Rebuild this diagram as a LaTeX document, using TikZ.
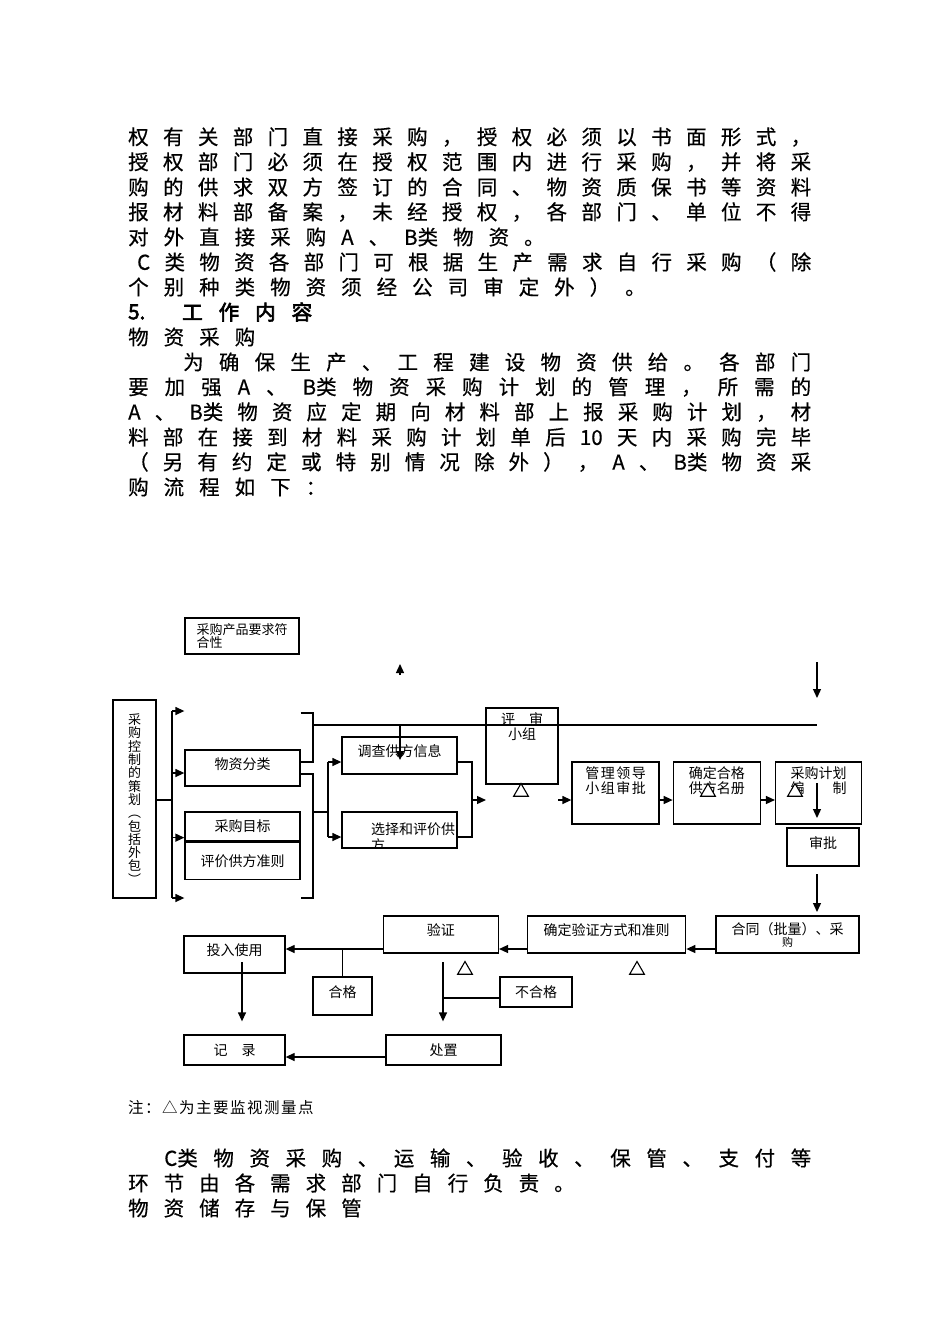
\documentclass[tikz,border=0pt]{standalone}
\usepackage{fontspec}
\setmainfont{Noto Sans CJK SC}
\newfontfamily\headfont[FakeBold=3]{Noto Sans CJK SC}
\newfontfamily\bodyface[FakeBold=0.5]{Noto Sans CJK SC}
\usetikzlibrary{positioning,arrows.meta,shapes.geometric}

\newdimen\bodygap
\bodygap=15pt
\newcommand\bodyfont{\fontsize{20.5}{25}\selectfont\bodyface}
\newcommand\boxfont{\fontsize{14}{15}\selectfont}

% spread the items of one text line: \jline justifies, \nline keeps a fixed gap
\ExplSyntaxOn
\cs_new_protected:Npn \rk_spread:nn #1#2
  {
    \bool_set_true:N \l_tmpa_bool
    \tl_map_inline:nn {#2}
      {
        \bool_if:NTF \l_tmpa_bool
          { \bool_set_false:N \l_tmpa_bool }
          { #1 }
        ##1
      }
  }
\NewDocumentCommand \jline { m m }
  { \hbox_to_wd:nn {#1} { \rk_spread:nn { \hfil } {#2} } }
\NewDocumentCommand \nline { O{\bodygap} m }
  { \hbox:n { \rk_spread:nn { \skip_horizontal:n {#1} } {#2} } }
\ExplSyntaxOff

\begin{document}
\begin{tikzpicture}[x=1pt,y=-1pt,
    >={Triangle[length=9pt,width=8pt]},
    every node/.style={inner sep=0pt},
    txt/.style={anchor=west, font=\bodyfont},
    box/.style={draw, line width=1.3pt, align=center, font=\boxfont},
    txtin/.style={align=center, font=\boxfont},
    raised/.style={text height=11pt, text depth=9pt},
    wire/.style={line width=1.3pt},
    tri/.style={regular polygon, regular polygon sides=3, draw, fill=white,
        line width=1.1pt, minimum size=17pt},
]
\fill[white] (0,0) rectangle (950,1344);

% text above the chart
\node[txt] (l1) at (128,137) {\jline{683pt}{权有关部门直接采购，授权必须以书面形式，}};
\node[txt] (l2) at (128,162) {\jline{683pt}{授权部门必须在授权范围内进行采购，并将采}};
\node[txt] (l3) at (128,187) {\jline{683pt}{购的供求双方签订的合同、物资质保书等资料}};
\node[txt] (l4) at (128,212) {\jline{683pt}{报材料部备案，未经授权，各部门、单位不得}};
\node[txt] (l5) at (128,237) {\nline{对外直接采购A、{B类}物资。}};
\node[txt] (l6) at (137,262) {\jline{674pt}{C类物资各部门可根据生产需求自行采购（除}};
\node[txt] (l7) at (128,287) {\nline{个别种类物资须经公司审定外）。}};
\node[txt, font=\bodyfont\headfont] (h5) at (128,312) {5.};
\node[txt, font=\bodyfont\headfont] (h5t) at (182,312) {\nline[16pt]{工作内容}};
\node[txt] (l9) at (128,337) {\nline{物资采购}};
\node[txt] (l10) at (183,362) {\jline{628pt}{为确保生产、工程建设物资供给。各部门}};
\node[txt] (l11) at (128,387) {\jline{683pt}{要加强A、{B类}物资采购计划的管理，所需的}};
\node[txt] (l12) at (128,412) {\jline{683pt}{A、{B类}物资应定期向材料部上报采购计划，材}};
\node[txt] (l13) at (128,437) {\jline{683pt}{料部在接到材料采购计划单后{10}天内采购完毕}};
\node[txt] (l14) at (128,462) {\jline{683pt}{（另有约定或特别情况除外），A、{B类}物资采}};
\node[txt] (l15) at (128,487) {\nline{购流程如下：}};

% chart boxes
\node[box, minimum width=114, minimum height=36, font=\fontsize{13}{12}\selectfont,
    align=left] (fuhe) at (242,636) {采购产品要求符\\合性};
\node[box, minimum width=43, minimum height=198, font=\fontsize{13}{13.3}\selectfont]
    (plan) at (134.5,799) {采\\购\\控\\制\\的\\策\\划\\︵\\包\\括\\外\\包\\︶};
\node[box, raised, minimum width=115, minimum height=36] (fenlei) at (242.5,768) {物资分类};
\node[box, minimum width=115, minimum height=29] (mubiao) at (242.5,826.5) {采购目标};
\node[box, minimum width=115, minimum height=37, below=0pt of mubiao] (zhunze) {评价供方准则};
\node[box, raised, minimum width=115, minimum height=37] (diaocha) at (399.5,755.5) {调查供方信息};
\node[box, minimum width=115, minimum height=36,
    path picture={\node[anchor=north west, align=left, font=\fontsize{14}{16}\selectfont]
        at ([xshift=13pt,yshift=-7pt]path picture bounding box.north west) {选择和评价供\\方};}]
    (xuanze) at (399.5,830) {};
\node[box, minimum width=72, minimum height=76] (pingshen) at (522,746) {};
\node[txtin, below=5pt of pingshen.north] (pingshen-t) {评　审\\小组};
\node[box, minimum width=87, minimum height=62] (guanli) at (615.5,793) {};
\node[box, minimum width=87, minimum height=62, right=13pt of guanli] (hege) {};
\node[box, minimum width=86, minimum height=62, right=14pt of hege] (jihua) {};
\node[txtin, below=5pt of guanli.north] (guanli-t) {\nline[1.5pt]{管理领导}\\\nline[1.5pt]{小组审批}};
\node[txtin, below=5pt of hege.north] (hege-t) {确定合格\\供方名册};
\node[txtin, below=5pt of jihua.north] (jihua-t) {采购计划\\编　　制};
\node[box, raised, minimum width=72, minimum height=38] (shenpi) at (823,847) {审批};

\node[box, minimum width=143, minimum height=37, font=\fontsize{14}{12}\selectfont]
    (hetong) at (787.5,934.5) {合同（批量）、采\\{\fontsize{11}{11}\selectfont 购}};
\node[box, raised, minimum width=158, minimum height=37, left=29pt of hetong] (fangshi) {确定验证方式和准则};
\node[box, raised, minimum width=115, minimum height=37, left=28pt of fangshi] (yanzheng) {验证};
\node[box, raised, minimum width=101, minimum height=37] (touru) at (234.5,954.5) {投入使用};
\node[box, raised, minimum width=59, minimum height=38] (hegebox) at (342.5,996) {合格};
\node[box, minimum width=72, minimum height=30] (buhege) at (536,992) {不合格};
\node[box, minimum width=101, minimum height=30] (jilu) at (234.5,1050) {记　录};
\node[box, minimum width=115, minimum height=30] (chuzhi) at (443.5,1050) {处置};

% junction points
\coordinate (upa) at (400,675);
\coordinate (upb) at (400,664);
\coordinate (feed) at (817,662);
\coordinate (feedend) at (817,698);
\coordinate (trunk) at (172,800);
\coordinate (trt) at (172,711);
\coordinate (trb) at (172,898);
\coordinate (br1t) at (313,713);
\coordinate (br1b) at (313,762);
\coordinate (br2t) at (313,774);
\coordinate (br2b) at (313,898);
\coordinate (br2m) at (313,812);
\coordinate (forkt) at (328,762);
\coordinate (forkm) at (328,812);
\coordinate (forkb) at (328,837);
\coordinate (topline) at (313,725);
\coordinate (toplineend) at (817,725);
\coordinate (dcin) at (400,760);
\coordinate (joint) at (472,762);
\coordinate (join) at (472,800);
\coordinate (joinb) at (472,837);
\coordinate (psin) at (486,800);
\coordinate (psout) at (558,800);
\coordinate (jhdown) at (817,783);
\coordinate (jhtip) at (817,818);
\coordinate (spdown) at (817,874);
\coordinate (sptip) at (817,912);
\coordinate (flow) at (700,949);
\coordinate (tudown) at (242,962);
\coordinate (yzdown) at (443,962);
\coordinate (yzbranch) at (443,998);
\coordinate (back) at (300,1057);

% connectors
\draw[wire,->] (upa) -- (upb);
\draw[wire,->] (feed) -- (feedend);
\draw[wire] (plan.east |- trunk) -- (trunk);
\draw[wire] (trt) -- (trb);
\draw[wire,->] (trt) -- (trt -| fenlei.west);
\draw[wire,->] (trb) -- (trb -| fenlei.west);
\draw[wire,->] ([yshift=-5pt]fenlei.west -| trunk) -- ([yshift=-5pt]fenlei.west);
\draw[wire,->] ([yshift=4pt]mubiao.south west -| trunk) -- ([yshift=4pt]mubiao.south west);
\draw[wire] (br1t -| fenlei.east) -- (br1t) -- (br1b) -- (br1b -| fenlei.east);
\draw[wire] (br2t -| fenlei.east) -- (br2t) -- (br2b) -- (br2b -| fenlei.east);
\draw[wire] (br2m) -- (forkm);
\draw[wire] (forkt) -- (forkb);
\draw[wire,->] (forkt) -- (forkt -| diaocha.west);
\draw[wire,->] (forkb) -- (forkb -| xuanze.west);
\draw[wire] (topline) -- (toplineend);
\draw[wire,->] (topline -| dcin) -- (dcin);
\draw[wire] (joint -| diaocha.east) -- (joint) -- (joinb) -- (joinb -| xuanze.east);
\draw[wire,->] (join) -- (psin);
\draw[wire,->] (psout) -- (psout -| guanli.west);
\draw[wire,->] (guanli.east |- psout) -- (hege.west |- psout);
\draw[wire,->] (hege.east |- psout) -- (jihua.west |- psout);
\draw[wire,->] (jhdown) -- (jhtip);
\draw[wire,->] (spdown) -- (sptip);
\draw[wire,->] (hetong.west |- flow) -- (fangshi.east |- flow);
\draw[wire,->] (fangshi.west |- flow) -- (yanzheng.east |- flow);
\draw[wire,->] (yanzheng.west |- flow) -- (touru.east |- flow);
\draw[wire] (hegebox.north |- flow) -- (hegebox.north);
\draw[wire,->] (tudown) -- ([yshift=13pt]jilu.north -| tudown);
\draw[wire,->] (yzdown) -- ([yshift=13pt]chuzhi.north -| yzdown);
\draw[wire] (yzbranch) -- (yzbranch -| buhege.west);
\draw[wire,->] (chuzhi.west |- back) -- (jilu.east |- back);

% monitoring points
\node[tri] (m1) at (521,792) {};
\node[tri] (m2) at (708,792) {};
\node[tri] (m3) at (795,792) {};
\node[tri] (m4) at (465,970) {};
\node[tri] (m5) at (637,970) {};

% text below the chart
\node[anchor=west, font=\fontsize{15.5}{15.5}\selectfont] (note) at (128,1108) {\nline[1.5pt]{注：△为主要监视测量点}};
\node[txt] (l16) at (128,1158) {\jline{683pt}{　{C类}物资采购、运输、验收、保管、支付等}};
\node[txt] (l17) at (128,1183) {\nline{环节由各需求部门自行负责。}};
\node[txt] (l18) at (128,1208) {\nline{物资储存与保管}};
\end{tikzpicture}
\end{document}
